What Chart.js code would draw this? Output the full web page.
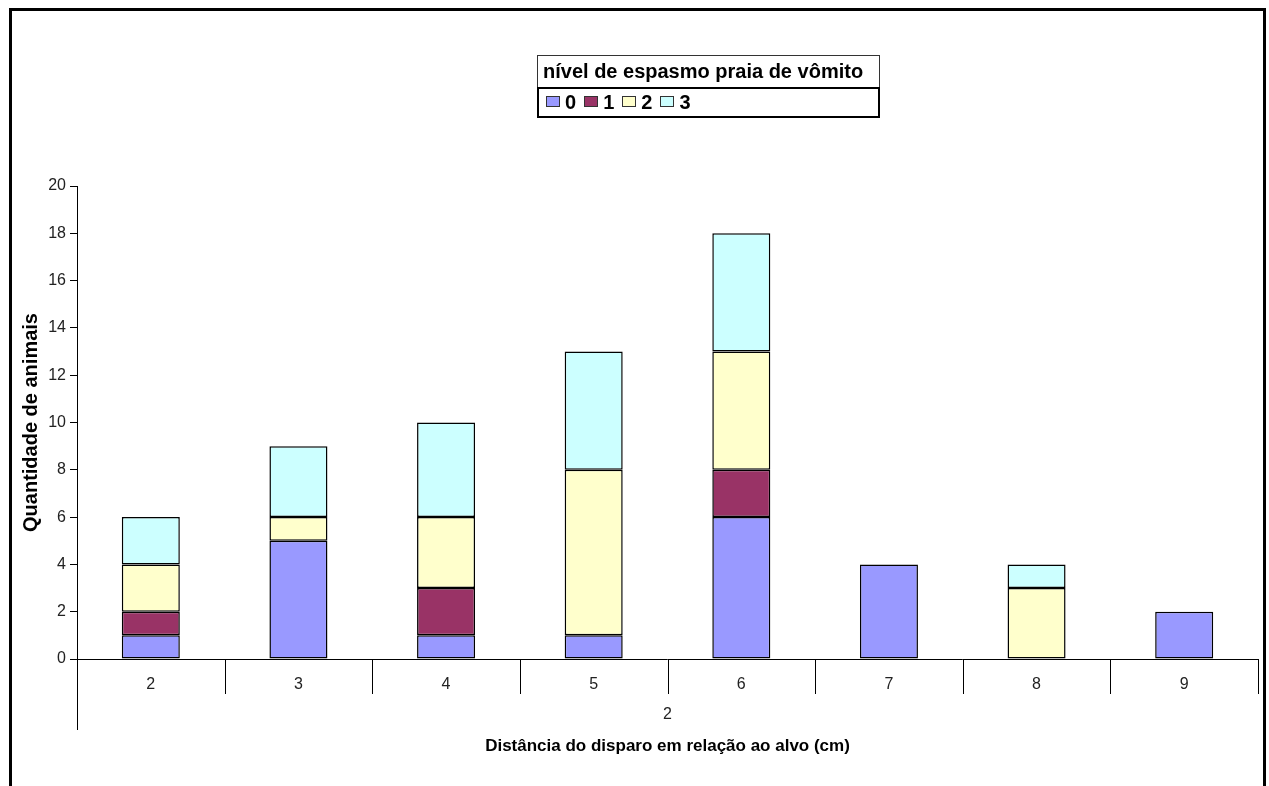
<!DOCTYPE html>
<html>
<head>
<meta charset="utf-8">
<script src="https://cdn.jsdelivr.net/npm/chart.js@4/dist/chart.umd.min.js"></script>
<style>
  body { margin: 0; background: #fff; font-family: "Liberation Sans", Arial, sans-serif; }
  #wrap { position: relative; width: 1269px; height: 786px; overflow: hidden; }
  #frame { position: absolute; left: 9px; top: 8px; width: 1251px; height: 800px; border: 3px solid #000; }
  #legend { position: absolute; left: 537px; top: 55px; width: 343px; }
  #legend .title { border: 1px solid #333; border-bottom: none; font-weight: bold; font-size: 20px; height: 31px; line-height: 31px; padding-left: 5px; background: #fff; white-space: nowrap; }
  #legend .items { border: 2px solid #000; height: 27px; line-height: 27px; padding-left: 7px; font-weight: bold; font-size: 20px; }
  #legend .box { display: inline-block; width: 12px; height: 9px; border: 1px solid #333; margin-right: 5px; vertical-align: 2px; }
  #legend .item { margin-right: 8px; }
  canvas { position: absolute; left: 0; top: 0; }
</style>
</head>
<body>
<div id="wrap">
  <canvas id="chart" width="1269" height="786"></canvas>
  <div id="frame"></div>
  <div id="legend"></div>
</div>
<script>
const categories = ['2', '3', '4', '5', '6', '7', '8', '9'];
const level0 = [1, 5, 1, 1, 6, 4, 0, 2];
const level1 = [1, 0, 2, 0, 2, 0, 0, 0];
const level2 = [2, 1, 3, 7, 5, 0, 3, 0];
const level3 = [2, 3, 4, 5, 5, 0, 1, 0];
const seriesNames = ['0', '1', '2', '3'];
const seriesColors = ['#9999FF', '#993366', '#FFFFCC', '#CCFFFF'];
const yTicks = [0, 2, 4, 6, 8, 10, 12, 14, 16, 18, 20];
const groupLabel = '2';
const legendTitle = 'nível de espasmo praia de vômito';
const xTitle = 'Distância do disparo em relação ao alvo (cm)';
const yTitle = 'Quantidade de animais';

const seriesData = [level0, level1, level2, level3];

// category separators, group label and x title under the axis
const lowerAxis = {
  id: 'lowerAxis',
  afterDraw(c) {
    const ctx = c.ctx;
    const x = c.scales.x;
    const area = c.chartArea;
    const n = categories.length;
    const step = (x.right - x.left) / n;
    ctx.save();
    ctx.strokeStyle = '#000';
    ctx.lineWidth = 1;
    ctx.beginPath();
    ctx.moveTo(area.left, area.bottom + 0.5);
    ctx.lineTo(area.right, area.bottom + 0.5);
    for (let i = 1; i <= n; i++) {
      const px = Math.round(x.left + i * step) + 0.5;
      ctx.moveTo(px, area.bottom);
      ctx.lineTo(px, area.bottom + 35);
    }
    ctx.moveTo(area.left + 0.5, area.bottom);
    ctx.lineTo(area.left + 0.5, area.bottom + 71);
    ctx.stroke();

    const mid = (area.left + area.right) / 2;
    ctx.fillStyle = '#222';
    ctx.textAlign = 'center';
    ctx.textBaseline = 'middle';
    ctx.font = '16px "Liberation Sans", Arial, sans-serif';
    ctx.fillText(groupLabel, mid, area.bottom + 56);
    ctx.fillStyle = '#000';
    ctx.font = 'bold 17px "Liberation Sans", Arial, sans-serif';
    ctx.fillText(xTitle, mid, area.bottom + 87);
    ctx.restore();
  }
};

const datasets = seriesData.map((d, i) => ({
  label: seriesNames[i],
  data: d,
  backgroundColor: seriesColors[i],
  borderColor: '#000',
  borderWidth: 1.5,
  borderSkipped: false,
  categoryPercentage: 1,
  barPercentage: 0.393
}));

new Chart(document.getElementById('chart'), {
  type: 'bar',
  data: { labels: categories, datasets: datasets },
  plugins: [lowerAxis],
  options: {
    responsive: false,
    animation: false,
    layout: { padding: { left: 0, top: 186, right: 11, bottom: 0 } },
    plugins: {
      legend: { display: false },
      tooltip: { enabled: false }
    },
    scales: {
      x: {
        stacked: true,
        grid: { display: false },
        border: { display: false },
        ticks: { color: '#222', font: { size: 16, family: '"Liberation Sans", Arial' }, padding: 8 },
        afterFit(s) { s.height = 127; }
      },
      y: {
        stacked: true,
        min: 0,
        max: 20,
        afterBuildTicks(s) { s.ticks = yTicks.map(v => ({ value: v })); },
        grid: { drawOnChartArea: false, tickLength: 7, color: '#000' },
        border: { display: true, color: '#000' },
        ticks: { color: '#222', font: { size: 16, family: '"Liberation Sans", Arial' }, padding: 4 },
        title: {
          display: true,
          text: yTitle,
          color: '#000',
          font: { size: 20, weight: 'bold', family: '"Liberation Sans", Arial' },
          padding: { top: 19, bottom: 0 }
        },
        afterFit(s) { s.width = 77; }
      }
    }
  }
});

// legend box
const legend = document.getElementById('legend');
let items = '';
seriesNames.forEach((name, i) => {
  items += '<span class="item"><span class="box" style="background:' + seriesColors[i] + '"></span>' + name + '</span>';
});
legend.innerHTML = '<div class="title">' + legendTitle + '</div><div class="items">' + items + '</div>';
</script>
</body>
</html>
